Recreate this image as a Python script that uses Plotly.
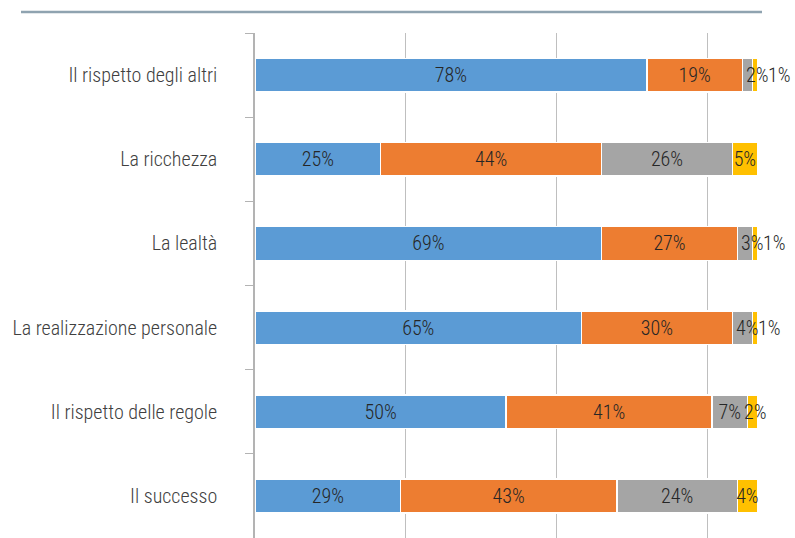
import plotly.graph_objects as go

# Survey categories (top to bottom) and the share for each answer group
categories = [
    "Il rispetto degli altri",
    "La ricchezza",
    "La lealtà",
    "La realizzazione personale",
    "Il rispetto delle regole",
    "Il successo",
]
series_1 = [78, 25, 69, 65, 50, 29]
series_2 = [19, 44, 27, 30, 41, 43]
series_3 = [2, 26, 3, 4, 7, 24]
series_4 = [1, 5, 1, 1, 2, 4]

series = [series_1, series_2, series_3, series_4]
colors = ["#5b9bd5", "#ed7d31", "#a5a5a5", "#ffc000"]

font_family = "Roboto Condensed, Roboto"
label_font = dict(family=font_family, size=20, color="#262626", weight=300)

n = len(categories)
# labels of very thin segments are written next to the bar instead of inside it
outside = [[False] * n for _ in series]
annotations = []
for i in range(n):
    gray_start = (series_1[i] + series_2[i]) / 100
    yellow_start = gray_start + series_3[i] / 100
    if series_4[i] <= 1:
        outside[2][i] = outside[3][i] = True
        annotations.append(dict(
            x=gray_start, y=categories[i], xref="x", yref="y",
            text=f"{series_3[i]}%", showarrow=False, xanchor="left",
            xshift=2, font=label_font,
        ))
        annotations.append(dict(
            x=gray_start, y=categories[i], xref="x", yref="y",
            text=f"{series_4[i]}%", showarrow=False, xanchor="left",
            xshift=24, font=label_font,
        ))
    elif series_4[i] <= 2:
        outside[3][i] = True
        annotations.append(dict(
            x=yellow_start, y=categories[i], xref="x", yref="y",
            text=f"{series_4[i]}%", showarrow=False, xanchor="left",
            xshift=-5, font=label_font,
        ))

fig = go.Figure()
for k, (vals, col) in enumerate(zip(series, colors)):
    fig.add_trace(go.Bar(
        y=categories,
        x=[v / 100 for v in vals],
        orientation="h",
        marker=dict(color=col, line=dict(color="white", width=1.5)),
        text=["" if outside[k][i] else f"{v}%" for i, v in enumerate(vals)],
        textposition="inside",
        insidetextanchor="middle",
        textangle=0,
        textfont=label_font,
        constraintext="none",
        cliponaxis=False,
        hoverinfo="skip",
    ))

fig.update_layout(
    barmode="stack",
    bargap=0.6,
    width=795,
    height=538,
    paper_bgcolor="white",
    plot_bgcolor="white",
    showlegend=False,
    margin=dict(l=255, r=25, t=33, b=0),
    font=dict(family=font_family, size=20, color="#404040", weight=300),
    uniformtext=dict(minsize=20, mode="show"),
    annotations=annotations,
    xaxis=dict(
        range=[0, 1.025],
        tickvals=[0, 0.3, 0.6, 0.9],
        showticklabels=False,
        showgrid=True,
        gridcolor="#bfbfbf",
        gridwidth=1,
        zeroline=False,
        showline=True,
        linecolor="#e3e3e3",
        linewidth=1,
        ticks="",
    ),
    yaxis=dict(
        categoryorder="array",
        categoryarray=categories,
        autorange="reversed",
        showline=True,
        linecolor="#b3b3b3",
        linewidth=1.5,
        ticks="outside",
        tickson="boundaries",
        ticklen=8,
        tickcolor="#b3b3b3",
        ticklabelstandoff=32,
        showgrid=False,
        zeroline=False,
        tickfont=dict(family=font_family, size=20, color="#404040", weight=300),
    ),
    shapes=[
        dict(
            type="line", xref="paper", yref="paper",
            x0=-234 / 515, x1=507 / 515, y0=1 + 21 / 505, y1=1 + 21 / 505,
            line=dict(color="#8fa3b0", width=2.5),
        )
    ],
)

fig.write_html("out.html")
